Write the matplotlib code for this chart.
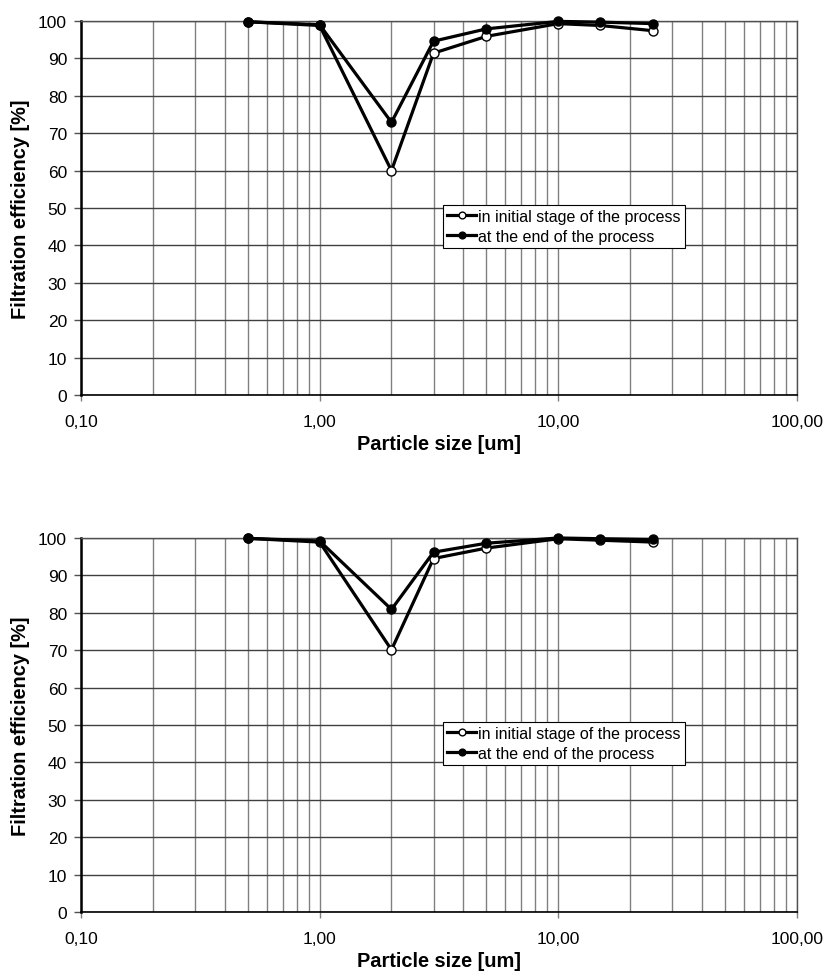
import matplotlib.pyplot as plt
from matplotlib.ticker import LogLocator, FixedLocator, FixedFormatter, NullFormatter

plt.rcParams['font.family'] = ['Liberation Sans', 'DejaVu Sans']

# Particle sizes [um]
sizes = [0.5, 1, 2, 3, 5, 10, 15, 25]

# Top chart
top_initial = [99.8, 98.8, 60.0, 91.4, 95.9, 99.3, 98.8, 97.4]
top_end = [99.8, 99.0, 72.9, 94.6, 97.9, 99.9, 99.7, 99.3]

# Bottom chart
bot_initial = [99.9, 98.9, 70.1, 94.5, 97.3, 99.8, 99.4, 98.9]
bot_end = [99.9, 99.2, 80.9, 96.2, 98.6, 100.0, 99.8, 99.6]

x_ticks = [0.1, 1, 10, 100]
x_labels = ['0,10', '1,00', '10,00', '100,00']

fig = plt.figure(figsize=(8.28, 9.78), dpi=100)
ax_top = fig.add_axes([0.0978, 0.5951, 0.8647, 0.3824])
ax_bot = fig.add_axes([0.0978, 0.0665, 0.8647, 0.3824])

for ax, init, end in [(ax_top, top_initial, top_end), (ax_bot, bot_initial, bot_end)]:
    ax.set_xscale('log')
    ax.set_xlim(0.1, 100)
    ax.set_ylim(0, 100)
    ax.xaxis.set_major_locator(FixedLocator(x_ticks))
    ax.xaxis.set_major_formatter(FixedFormatter(x_labels))
    ax.xaxis.set_minor_locator(LogLocator(base=10, subs=range(2, 10)))
    ax.xaxis.set_minor_formatter(NullFormatter())
    ax.set_yticks(range(0, 101, 10))
    ax.grid(True, which='major', axis='y', color='#404040', linewidth=1.0)
    ax.grid(True, which='both', axis='x', color='#808080', linewidth=1.0)
    ax.set_axisbelow(True)
    ax.tick_params(axis='x', which='major', length=4, width=1.0, color='#808080',
                   labelsize=12.5, pad=10)
    ax.tick_params(axis='x', which='minor', length=0)
    ax.tick_params(axis='y', length=5, width=1.0, color='#505050', labelsize=12.5, pad=5)
    for s in ['top', 'right']:
        ax.spines[s].set_color('#505050')
        ax.spines[s].set_linewidth(1.0)
    ax.spines['bottom'].set_color('black')
    ax.spines['bottom'].set_linewidth(1.2)
    ax.spines['left'].set_color('black')
    ax.spines['left'].set_linewidth(1.8)

    ax.plot(sizes, init, color='black', linewidth=2.3, marker='o', markersize=6.5,
            markerfacecolor='white', markeredgecolor='black', markeredgewidth=1.0,
            label='in initial stage of the process', clip_on=False, zorder=3)
    ax.plot(sizes, end, color='black', linewidth=2.3, marker='o', markersize=6.5,
            markerfacecolor='black', markeredgecolor='black',
            label='at the end of the process', clip_on=False, zorder=4)

    ax.set_xlabel('Particle size [um]', fontsize=14.4, fontweight='bold', labelpad=3)
    ax.set_ylabel('Filtration efficiency [%]', fontsize=14.4, fontweight='bold', labelpad=6)

    leg = ax.legend(loc='upper left', bbox_to_anchor=(0.506, 0.508), fontsize=11.5,
                    frameon=True, fancybox=False, framealpha=1, edgecolor='black',
                    borderpad=0.25, handlelength=1.8, handletextpad=0.15,
                    labelspacing=0.3, borderaxespad=0, markerscale=0.75)
    leg.get_frame().set_linewidth(0.8)

fig.savefig('out.png', dpi=100)
